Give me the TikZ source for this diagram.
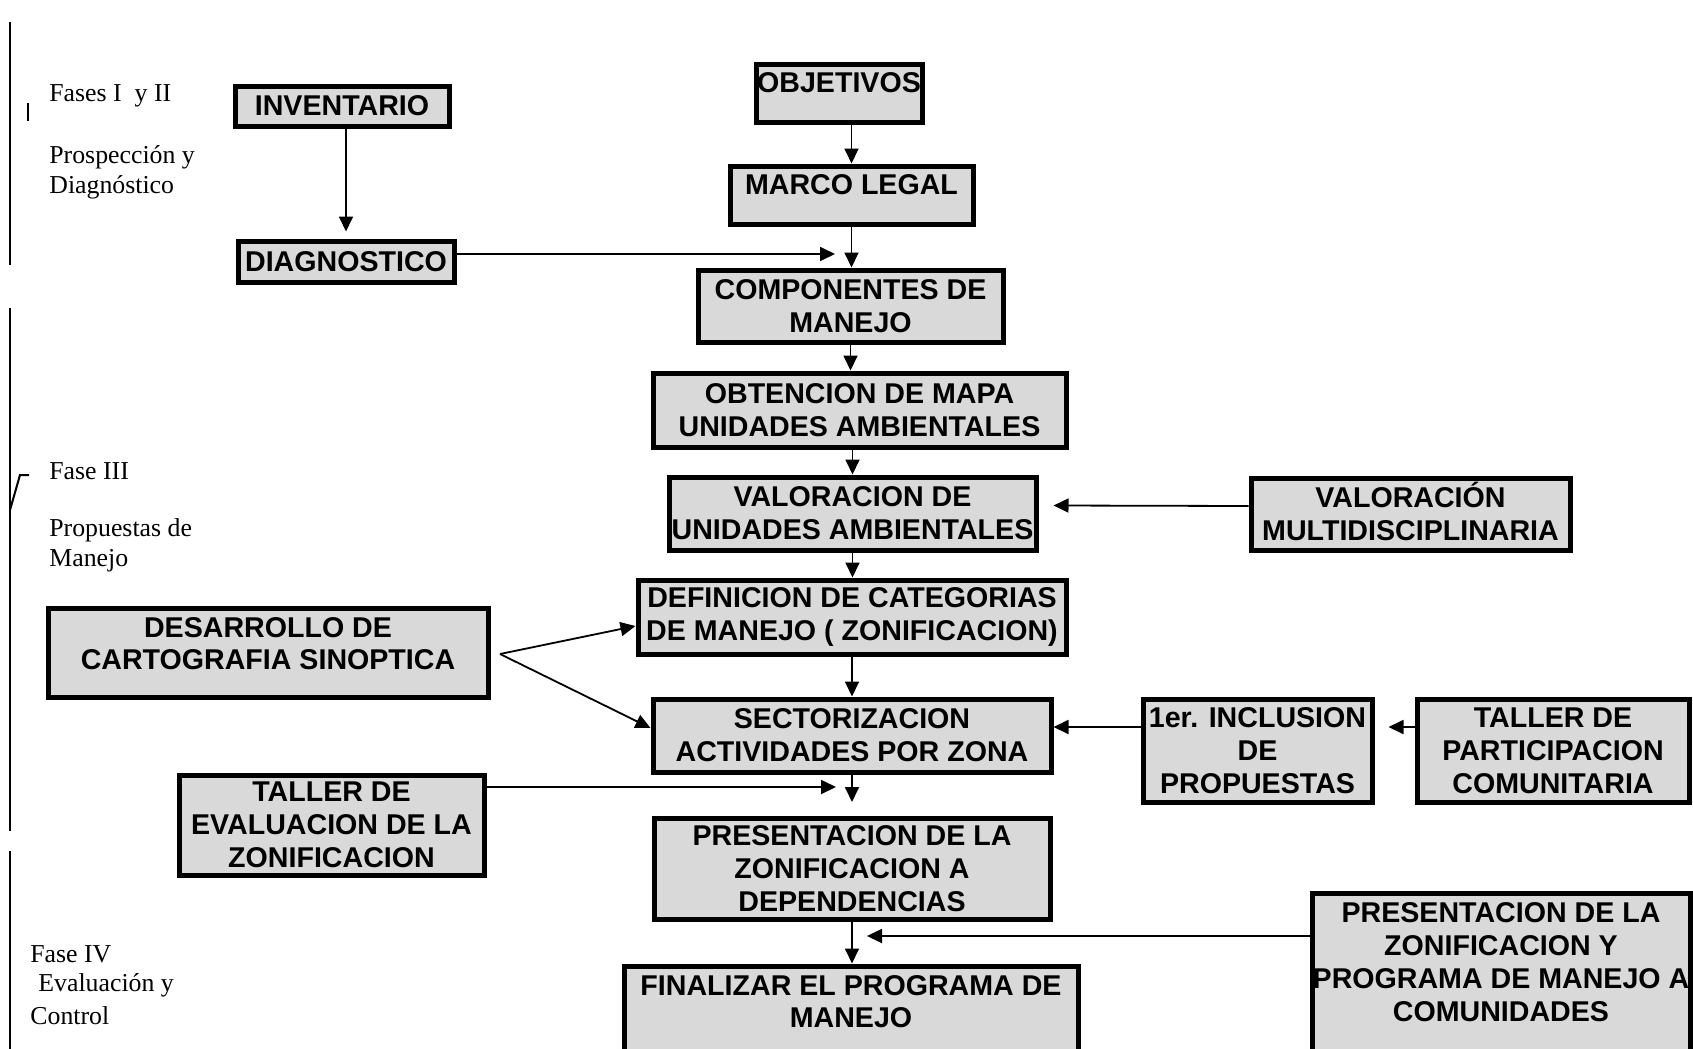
\documentclass[tikz,border=0pt]{standalone}
\usepackage{fontspec}
\setmainfont{Liberation Serif}
\newfontfamily\cajafont{Liberation Sans}
\usetikzlibrary{arrows.meta}
\definecolor{gris}{RGB}{217,217,217}

\begin{document}
\begin{tikzpicture}[x=0.5pt,y=-0.5pt,
  caja/.style={draw,line width=2.5pt,fill=gris,inner sep=0pt,align=center,
    font=\cajafont\bfseries\fontsize{14.3}{16.4}\selectfont},
  tam/.style 2 args={minimum width=#1*0.5pt,minimum height=#2*0.5pt},
  flecha/.style={line width=0.9pt,-{Triangle[length=7.5pt,width=7pt]}},
  fase/.style={anchor=west,align=left,inner sep=0pt,font=\fontsize{12.9}{15}\selectfont},
  raya/.style={line width=1pt}]
% Page frame
\useasboundingbox (0,0) rectangle (1693,1049);
\clip (0,0) rectangle (1693,1049);
% Brackets on the left margin
\draw[raya] (10,22) -- (10,265);
\draw[raya] (28,103) -- (28,121);
\draw[raya] (10,308) -- (10,831);
\draw[raya] (10,510) -- (20,475) -- (29,475);
\draw[raya] (10,851) -- (10,1049);
% Phase labels
\node[fase] (fase12) at (49,96) {Fases I\ \ y II};
\node[fase] (prosp) at (49,172) {Prospección y\\Diagnóstico};
\node[fase] (fase3) at (49,471) {Fase III};
\node[fase] (propu) at (49,545.5) {Propuestas de\\Manejo};
\node[fase] (fase4) at (30,954) {Fase IV};
\node[fase] (evalu) at (38,985) {Evaluación y};
\node[fase] (control) at (30,1016) {Control};
% Boxes of the flow
\node[caja,tam={214}{40}] (inventario) at (342,106) {INVENTARIO};
\node[caja,tam={216}{41}] (diagnostico) at (346,261.5) {DIAGNOSTICO};
\node[caja,tam={166}{58},text depth=10pt] (objetivos) at (839,93) {OBJETIVOS};
\node[caja,tam={243}{58},text depth=10pt] (marco) at (851.5,195) {MARCO LEGAL};
\node[caja,tam={305}{72}] (componentes) at (850.5,306) {COMPONENTES DE\\MANEJO};
\node[caja,tam={413}{74}] (obtencion) at (859.5,410) {OBTENCION DE MAPA\\UNIDADES AMBIENTALES};
\node[caja,tam={367}{73}] (valoracion) at (852.5,513.5) {VALORACION DE\\UNIDADES AMBIENTALES};
\node[caja,tam={319}{72},text height=26.7pt] (multi) at (1410.5,514) {VALORACIÓN\\MULTIDISCIPLINARIA};
\node[caja,tam={428}{74}] (definicion) at (852,617) {DEFINICION DE CATEGORIAS\\DE MANEJO ( ZONIFICACION)};
\node[caja,tam={440}{89},text depth=9pt] (desarrollo) at (268,652.5) {DESARROLLO DE\\CARTOGRAFIA SINOPTICA};
\node[caja,tam={398}{73}] (sectorizacion) at (852,735.5) {SECTORIZACION\\ACTIVIDADES POR ZONA};
\node[caja,tam={229}{103}] (inclusion) at (1257.5,750.5) {1er. INCLUSION\\DE\\PROPUESTAS};
\node[caja,tam={272}{103}] (tallerpart) at (1553,750.5) {TALLER DE\\PARTICIPACION\\COMUNITARIA};
\node[caja,tam={305}{100}] (tallereval) at (331.5,825) {TALLER DE\\EVALUACION DE LA\\ZONIFICACION};
\node[caja,tam={396}{101}] (presdep) at (852,868.5) {PRESENTACION DE LA\\ZONIFICACION A\\DEPENDENCIAS};
\node[caja,tam={454}{106},text depth=17.5pt] (finalizar) at (851,1019) {FINALIZAR EL PROGRAMA DE\\MANEJO};
\node[caja,tam={378}{185},text depth=23.5pt] (presprog) at (1501,985.5) {PRESENTACION DE LA\\ZONIFICACION Y\\PROGRAMA DE MANEJO A\\COMUNIDADES};
% Free ends of some arrows
\coordinate (d1) at (835,254);
\coordinate (c1) at (500,654);
\coordinate (s1) at (852,802);
\coordinate (t1) at (836,787);
\coordinate (p1) at (867,936);
% Arrows
\draw[flecha] (inventario.south -| diagnostico.north) -- ([yshift=3.5pt]diagnostico.north);
\draw[flecha] (objetivos.south -| marco.north) -- (marco.north);
\draw[flecha] (marco.south) -- (marco.south |- componentes.north);
\draw[flecha] (diagnostico.east |- d1) -- (d1);
\draw[flecha] (componentes.south) -- (componentes.south |- obtencion.north);
\draw[flecha] (valoracion.north |- obtencion.south) -- (valoracion.north);
\draw[flecha] ([yshift=4pt]multi.west) -- ([yshift=4pt,xshift=7.5pt]valoracion.east);
\draw[flecha] (valoracion.south) -- (valoracion.south |- definicion.north);
\draw[flecha] (c1) -- ([yshift=-4.5pt]definicion.west);
\draw[flecha] (c1) -- ([yshift=3.75pt]sectorizacion.west);
\draw[flecha] (definicion.south) -- (sectorizacion.north);
\draw[flecha] ([yshift=11.75pt]inclusion.west) -- ([yshift=11.75pt]inclusion.west -| sectorizacion.east);
\draw[flecha] ([yshift=11.75pt]tallerpart.west) -- ([yshift=11.75pt,xshift=7pt]inclusion.east);
\draw[flecha] (sectorizacion.south) -- (s1);
\draw[flecha] (tallereval.east |- t1) -- (t1);
\draw[flecha] (presdep.south) -- (presdep.south |- finalizar.north);
\draw[flecha] (presprog.west |- p1) -- (p1);
\end{tikzpicture}
\end{document}
